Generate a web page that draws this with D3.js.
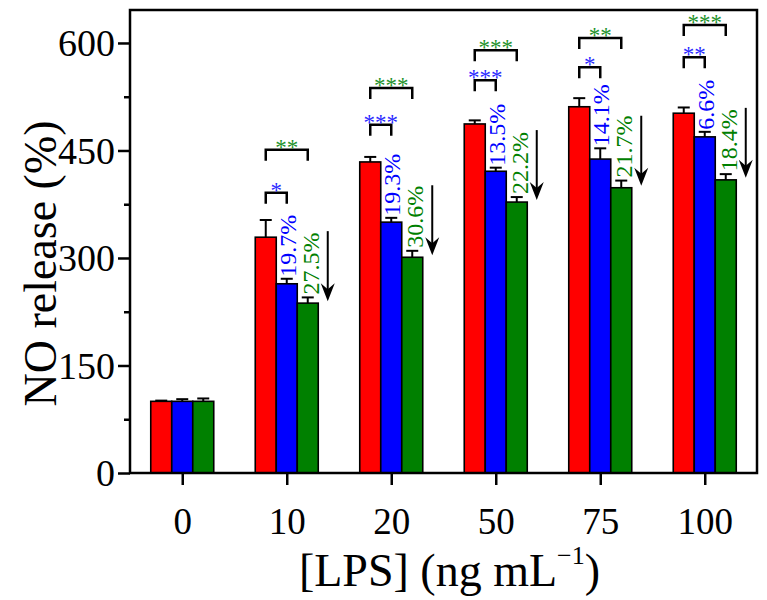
<!DOCTYPE html>
<html>
<head>
<meta charset="utf-8">
<script src="https://cdn.jsdelivr.net/npm/d3@7"></script>
<style>
  html, body { margin: 0; padding: 0; background: #fff; }
  svg { display: block; font-family: "Liberation Serif", "Times New Roman", serif; }
</style>
</head>
<body>
<svg id="chart" width="767" height="600"></svg>
<script>
// ---- data ----
const categories = ["0", "10", "20", "50", "75", "100"];
const seriesNames = ["LPS", "TreatA", "TreatB"];
const redValues   = [100, 329, 434, 487, 511, 502];
const redErrors   = [1, 24, 7, 5, 12, 8];
const blueValues  = [100, 264, 350, 421, 438, 469];
const blueErrors  = [3, 7, 6, 5, 15, 7];
const greenValues = [100, 237, 301, 378, 398, 409];
const greenErrors = [4, 8, 9, 7, 10, 8];
const yTicks = [0, 150, 300, 450, 600];
const yMinorTicks = [75, 225, 375, 525];
// annotations for groups 10..100
const annotCats = ["10", "20", "50", "75", "100"];
const bluePercent  = ["19.7%", "19.3%", "13.5%", "14.1%", "6.6%"];
const greenPercent = ["27.5%", "30.6%", "22.2%", "21.7%", "18.4%"];
const blueStars  = ["*", "***", "***", "*", "**"];
const greenStars = ["**", "***", "***", "**", "***"];
const blueBracketLevel  = [391, 486, 548, 566, 580];
const greenBracketLevel = [451, 537, 590, 607, 625];

const colors = ["#ff0000", "#0000ff", "#008000"];

// ---- layout ----
const svg = d3.select("#chart");
const frame = { left: 130, right: 757, top: 10, bottom: 473 };

const x = d3.scalePoint().domain(categories).range([frame.left, frame.right]).padding(0.5);
const sub = d3.scaleBand().domain(seriesNames).range([-31.5, 31.5]);
const y = d3.scaleLinear().domain([0, 646]).range([frame.bottom, frame.top]);

const seriesVals = [redValues, blueValues, greenValues];
const seriesErrs = [redErrors, blueErrors, greenErrors];

const bars = [];
categories.forEach((c, i) => {
  seriesNames.forEach((s, j) => {
    bars.push({ cat: c, s, j, v: seriesVals[j][i], e: seriesErrs[j][i] });
  });
});

// error bars (upper only)
const eb = svg.append("g").attr("stroke", "#000").attr("stroke-width", 2);
bars.forEach(d => {
  const cx = x(d.cat) + sub(d.s) + sub.bandwidth() / 2;
  eb.append("line").attr("x1", cx).attr("x2", cx).attr("y1", y(d.v)).attr("y2", y(d.v + d.e));
  eb.append("line").attr("x1", cx - 6).attr("x2", cx + 6).attr("y1", y(d.v + d.e)).attr("y2", y(d.v + d.e));
});

svg.append("g").selectAll("rect").data(bars).join("rect")
  .attr("x", d => x(d.cat) + sub(d.s))
  .attr("y", d => y(d.v))
  .attr("width", sub.bandwidth())
  .attr("height", d => y(0) - y(d.v))
  .attr("fill", d => colors[d.j])
  .attr("stroke", "#000")
  .attr("stroke-width", 1.6);

// ---- axes ----
const yAxis = svg.append("g").attr("transform", `translate(${frame.left},0)`)
  .call(d3.axisLeft(y).tickValues(yTicks).tickSize(12).tickPadding(3).tickFormat(d3.format("d")));
svg.append("g").attr("transform", `translate(${frame.left},0)`)
  .call(d3.axisLeft(y).tickValues(yMinorTicks).tickSize(6).tickFormat(""))
  .call(g => g.select(".domain").remove());
const xAxis = svg.append("g").attr("transform", `translate(0,${frame.bottom})`)
  .call(d3.axisBottom(x).tickSize(12).tickPadding(8));

svg.selectAll(".tick line").attr("stroke", "#000").attr("stroke-width", 2.5);
svg.selectAll(".domain").remove();
yAxis.selectAll("text").attr("font-size", 38).attr("font-family", "Liberation Serif").attr("fill", "#000").attr("dy", "0.34em");
xAxis.selectAll("text").attr("font-size", 37).attr("font-family", "Liberation Serif").attr("fill", "#000")
  .attr("y", 61).attr("dy", null);

// frame
svg.append("rect")
  .attr("x", frame.left).attr("y", frame.top)
  .attr("width", frame.right - frame.left).attr("height", frame.bottom - frame.top)
  .attr("fill", "none").attr("stroke", "#000").attr("stroke-width", 2.5);

// ---- annotations ----
const ann = svg.append("g");
annotCats.forEach((c, k) => {
  const i = categories.indexOf(c);
  const cr = x(c) + sub("LPS") + sub.bandwidth() / 2;
  const cb = x(c) + sub("TreatA") + sub.bandwidth() / 2;
  const cg = x(c) + sub("TreatB") + sub.bandwidth() / 2;
  const bracket = (x1, x2, lvl) => {
    const yy = y(lvl);
    ann.append("path")
      .attr("d", `M${x1},${yy + 11}V${yy}H${x2}V${yy + 11}`)
      .attr("fill", "none").attr("stroke", "#000").attr("stroke-width", 2.5);
  };
  bracket(cr, cb, blueBracketLevel[k]);
  bracket(cr, cg, greenBracketLevel[k]);
  ann.append("text").attr("x", (cr + cb) / 2).attr("y", y(blueBracketLevel[k]) + 5)
    .attr("text-anchor", "middle").attr("font-size", 23).attr("fill", "#2a2aff").text(blueStars[k]);
  ann.append("text").attr("x", (cr + cg) / 2).attr("y", y(greenBracketLevel[k]) + 5)
    .attr("text-anchor", "middle").attr("font-size", 23).attr("fill", "#22922a").text(greenStars[k]);
  // percent labels (rotated)
  const by = y(blueValues[i] + blueErrors[i]) - 2;
  ann.append("text").attr("transform", `translate(${cb + 9},${by}) rotate(-90)`)
    .attr("font-size", 24).attr("fill", "#0000ff").text(bluePercent[k]);
  const gy = y(greenValues[i] + greenErrors[i]) - 3;
  ann.append("text").attr("transform", `translate(${cg + 11},${gy}) rotate(-90)`)
    .attr("font-size", 24).attr("fill", "#008000").text(greenPercent[k]);
  // arrow
  const ax = x(c) + 41;
  const yEnd = y(greenValues[i]) - 2;
  const yStart = yEnd - 70;
  ann.append("line").attr("x1", ax).attr("x2", ax).attr("y1", yStart).attr("y2", yEnd - 10)
    .attr("stroke", "#000").attr("stroke-width", 2);
  ann.append("path").attr("d", `M${ax - 7},${yEnd - 18}L${ax},${yEnd - 12}L${ax + 7},${yEnd - 18}L${ax},${yEnd}Z`)
    .attr("fill", "#000");
});

// ---- axis titles ----
svg.append("text")
  .attr("transform", `translate(56,${(frame.top + frame.bottom) / 2 + 22}) rotate(-90)`)
  .attr("text-anchor", "middle").attr("font-size", 46).attr("fill", "#000")
  .text("NO release (%)");

const xt = svg.append("text")
  .attr("x", (frame.left + frame.right) / 2 + 6).attr("y", 586)
  .attr("text-anchor", "middle").attr("font-size", 46).attr("fill", "#000");
xt.append("tspan").text("[LPS] (ng mL");
xt.append("tspan").attr("font-size", 26).attr("dy", -22).text("−1");
xt.append("tspan").attr("dy", 22).text(")");
</script>
</body>
</html>
